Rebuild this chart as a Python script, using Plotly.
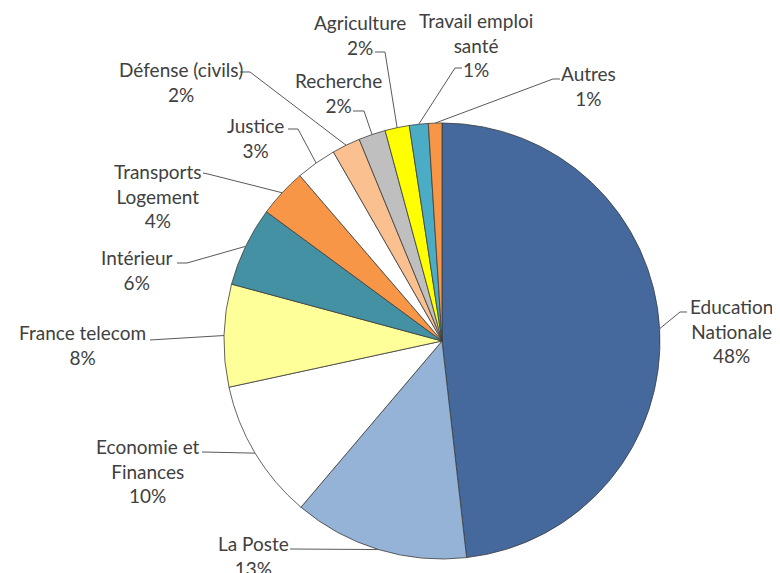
import math
import plotly.graph_objects as go

# ---- data ----
categories = ["Education<br>Nationale", "La Poste", "Economie et<br>Finances", "France telecom",
              "Intérieur", "Transports<br>Logement", "Justice", "Défense (civils)",
              "Recherche", "Agriculture", "Travail emploi<br>santé", "Autres"]
values = [48.2, 13.0, 10.4, 7.6, 5.9, 3.6, 3.0, 2.1, 2.0, 1.8, 1.4, 1.0]
colors = ["#45699C", "#95B3D7", "#FFFFFF", "#FFFF99", "#4591A4", "#F79646",
          "#FFFFFF", "#FAC090", "#BFBFBF", "#FFFF00", "#4BACC6", "#F79646"]

# ---- layout constants (reference pixels) ----
OFF = 8  # page body margin
W, H = 780 - OFF, 573 - OFF
CX, CY, R = 442, 341, 218
# label block centre (x, y), elbow point, line end near text
label_pos = [
    (731, 331), (253, 556), (148, 471), (82, 345), (137, 270), (158, 196),
    (256, 138), (181, 82), (338, 93), (360, 35), (476, 45), (588, 86),
]
elbows = [
    (680, 312), None, None, None, (187, 263), (208, 174),
    (298, 129), (250, 72), (364, 111), (385, 52), (455, 68), (553, 79),
]
ends = [
    (687, 312), (290, 549), (202, 452), (150, 340), (177, 263), (203, 173),
    (288, 129), (240, 72), (353, 111), (375, 52), (462, 68), (560, 79),
]

def px(x):
    return (x - OFF) / W

def py(y):
    return 1 - (y - OFF) / H

fig = go.Figure(go.Pie(
    labels=[c.replace("<br>", " ") for c in categories],
    values=values,
    sort=False,
    direction="clockwise",
    rotation=0,
    marker=dict(colors=colors, line=dict(color="#3C3C3C", width=0.8)),
    textinfo="none",
    hoverinfo="label+percent",
    showlegend=False,
    domain=dict(x=[px(CX - R), px(CX + R)], y=[py(CY + R), py(CY - R)]),
))

total = sum(values)
cum = 0.0
shapes = []
annotations = []
for i, v in enumerate(values):
    a = 2 * math.pi * (cum + v / 2) / total
    cum += v
    ex = CX + R * math.sin(a)
    ey = CY - R * math.cos(a)
    pts = [(ex, ey)]
    if elbows[i] is not None:
        pts.append(elbows[i])
    pts.append(ends[i])
    path = "M " + " L ".join(f"{px(x):.5f},{py(y):.5f}" for x, y in pts)
    shapes.append(dict(type="path", xref="paper", yref="paper", path=path,
                       line=dict(color="#595959", width=1)))
    pct = f"{round(v / total * 100)}%"
    lx, ly = label_pos[i]
    annotations.append(dict(
        x=px(lx), y=py(ly), xref="paper", yref="paper",
        text=f"{categories[i]}<br>{pct}", showarrow=False,
        xanchor="center", yanchor="middle", align="center",
        font=dict(family="Lato", size=19, color="#404040"),
    ))

fig.update_layout(
    width=W, height=H,
    margin=dict(l=0, r=0, t=0, b=0),
    paper_bgcolor="white", plot_bgcolor="white",
    shapes=shapes, annotations=annotations,
)

fig.write_html("out.html")
